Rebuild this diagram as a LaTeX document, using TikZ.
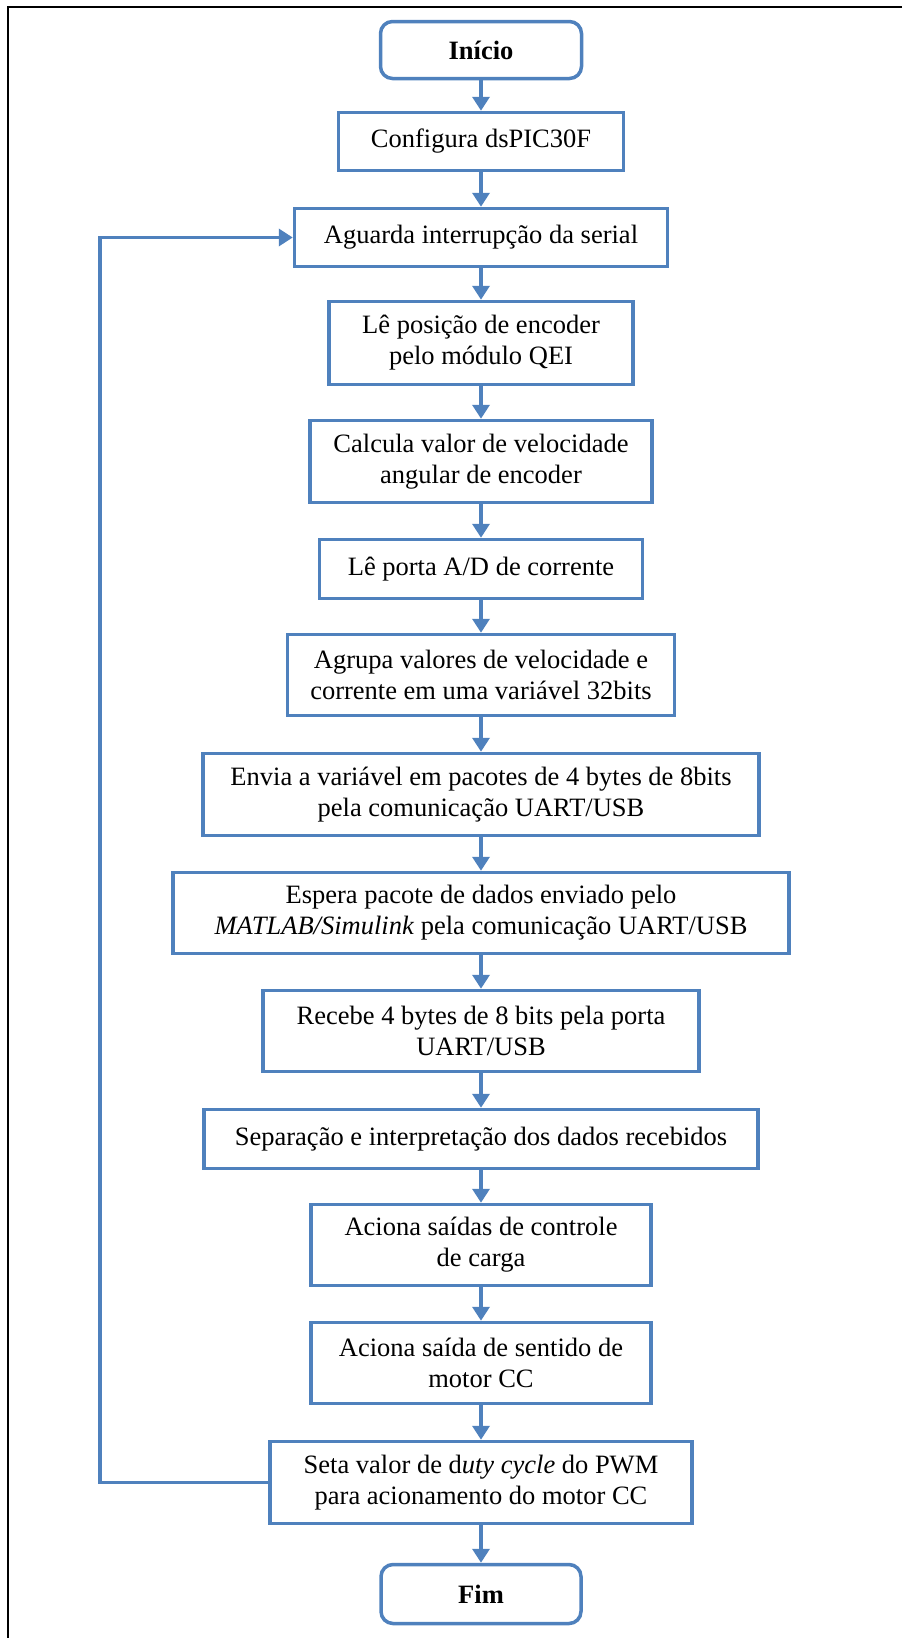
\documentclass[tikz,border=0pt]{standalone}
\usepackage{fontspec}
\setmainfont{Liberation Serif}
\usetikzlibrary{arrows.meta}
\definecolor{bblue}{RGB}{79,129,189}
\begin{document}
\begin{tikzpicture}[x=1pt,y=-1pt,
  box/.style={draw=bblue, line width=3.5pt, fill=white, inner sep=0pt, align=center,
    font=\fontsize{26.5}{31}\selectfont},
  term/.style={box, rounded corners=12pt, font=\fontsize{26.5}{31}\selectfont\bfseries},
  arr/.style={draw=bblue, line width=3.5pt, -{Triangle[length=14pt,width=17pt]}}]
\useasboundingbox (0,0) rectangle (902,1638);
\draw[line width=2.5pt] (902,7) -- (8,7) -- (8,1638);

\node[term, minimum width=201, minimum height=57] (ini) at (481,50) {Início};
\node[box, minimum width=285, minimum height=58] (cfg) at (481,141.5) {Configura dsPIC30F};
\node[box, minimum width=373, minimum height=58] (agu) at (481,237.5) {Aguarda interrupção da serial};
\node[box, minimum width=304, minimum height=83] (pos) at (481,343) {Lê posição de encoder\\pelo módulo QEI};
\node[box, minimum width=342, minimum height=82] (cal) at (481,461.5) {Calcula valor de velocidade\\angular de encoder};
\node[box, minimum width=323, minimum height=59] (adc) at (481,569) {Lê porta A/D de corrente};
\node[box, minimum width=387, minimum height=81] (agr) at (481,675) {Agrupa valores de velocidade e\\corrente em uma variável 32bits};
\node[box, minimum width=556, minimum height=82] (env) at (481,794.5) {Envia a variável em pacotes de 4 bytes de 8bits\\pela comunicação UART/USB};
\node[box, minimum width=616, minimum height=81] (esp) at (481,913) {Espera pacote de dados enviado pelo\\\textit{MATLAB/Simulink} pela comunicação UART/USB};
\node[box, minimum width=436, minimum height=81] (rec) at (481,1031) {Recebe 4 bytes de 8 bits pela porta\\UART/USB};
\node[box, minimum width=554, minimum height=59] (sep) at (481,1139) {Separação e interpretação dos dados recebidos};
\node[box, minimum width=340, minimum height=81] (car) at (481,1245) {Aciona saídas de controle\\de carga};
\node[box, minimum width=340, minimum height=81] (sen) at (481,1363) {Aciona saída de sentido de\\motor CC};
\node[box, minimum width=422, minimum height=82] (pwm) at (481,1482.5) {Seta valor de d\textit{uty cycle} do PWM\\para acionamento do motor CC};
\node[term, minimum width=200, minimum height=59] (fim) at (481,1594) {Fim};

\coordinate (loopx) at (100,0);

\draw[arr] (ini) -- (cfg);
\draw[arr] (cfg) -- (agu);
\draw[arr] (agu) -- (pos);
\draw[arr] (pos) -- (cal);
\draw[arr] (cal) -- (adc);
\draw[arr] (adc) -- (agr);
\draw[arr] (agr) -- (env);
\draw[arr] (env) -- (esp);
\draw[arr] (esp) -- (rec);
\draw[arr] (rec) -- (sep);
\draw[arr] (sep) -- (car);
\draw[arr] (car) -- (sen);
\draw[arr] (sen) -- (pwm);
\draw[arr] (pwm) -- (fim);
\draw[arr] (pwm.west) -- (pwm.west -| loopx) |- (agu.west);
\end{tikzpicture}
\end{document}
